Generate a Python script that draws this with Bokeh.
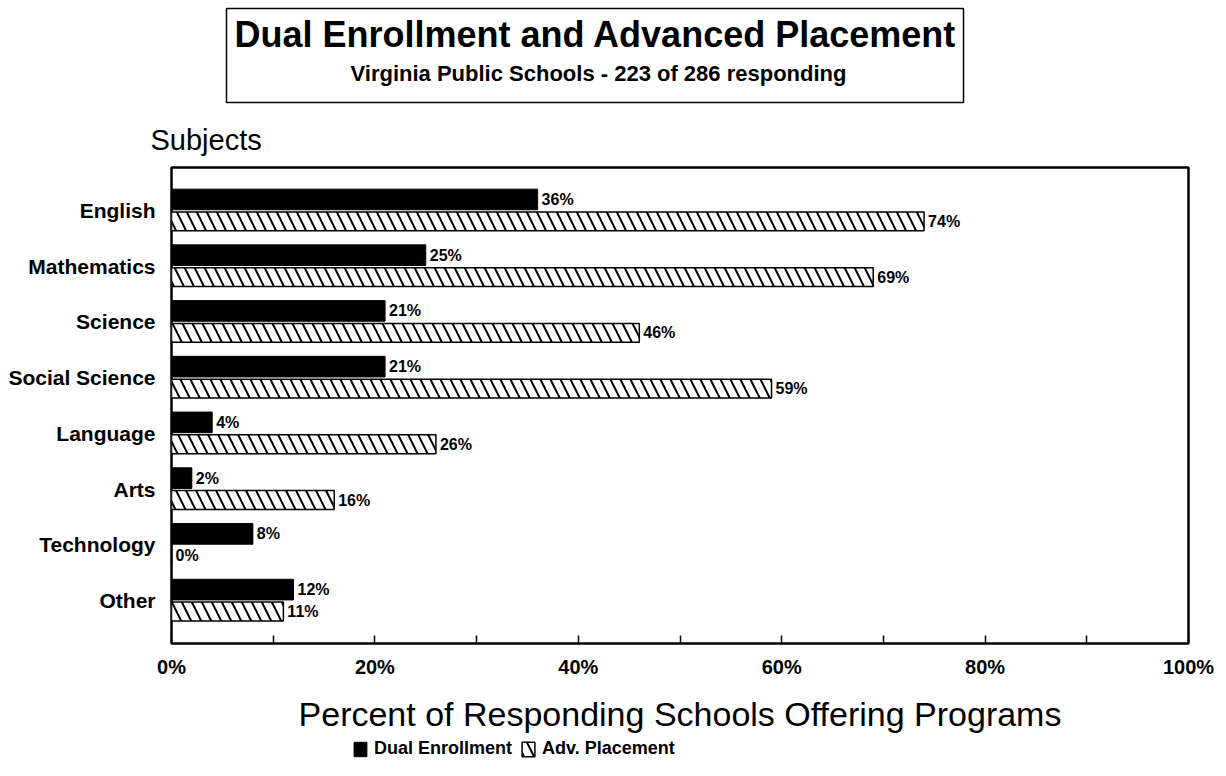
from bokeh.plotting import figure
from bokeh.models import (Range1d, FixedTicker, Label, Legend, LegendItem, ColumnDataSource,
                          BoxAnnotation)
from bokeh.layouts import column
from bokeh.core.properties import value
from bokeh.embed import file_html
from bokeh.resources import INLINE

# ---- data ----
subjects = ["English", "Mathematics", "Science", "Social Science", "Language", "Arts", "Technology", "Other"]
dual_enrollment = [36, 25, 21, 21, 4, 2, 8, 12]
adv_placement = [74, 69, 46, 59, 26, 16, 0, 11]
x_ticks = [0, 10, 20, 30, 40, 50, 60, 70, 80, 90, 100]
x_tick_labels = ["0%", "", "20%", "", "40%", "", "60%", "", "80%", "", "100%"]

FONT = "Liberation Sans"
W = 1226
FL, FR = 171, 1188

# ---------------- title figure (frame spans same columns as main frame) ----------------
TH = 110
t = figure(width=W, height=TH, output_backend="svg", toolbar_location=None,
           x_axis_type=None, y_axis_type=None,
           x_range=Range1d(FL, FR), y_range=Range1d(TH, 0),
           min_border_left=FL, min_border_right=W - FR, min_border_top=0, min_border_bottom=0)
t.outline_line_color = None
t.xgrid.visible = False
t.ygrid.visible = False
t.add_layout(BoxAnnotation(left=226, right=963, top=8, bottom=102, fill_alpha=0,
                           line_color="black", line_alpha=1.0, line_width=1.5))
t.add_layout(Label(x=595, y=34, text="Dual Enrollment and Advanced Placement",
                   text_font=FONT, text_font_style="bold", text_font_size="36px",
                   text_align="center", text_baseline="middle", text_color="black"))
t.add_layout(Label(x=598, y=73, text="Virginia Public Schools - 223 of 286 responding",
                   text_font=FONT, text_font_style="bold", text_font_size="22px",
                   text_align="center", text_baseline="middle", text_color="black"))

# ---------------- main figure ----------------
LH = 41
MH = 776 - TH - LH
n = len(subjects)
ypos = [n - 1 - i for i in range(n)]

src = ColumnDataSource(dict(
    y=ypos,
    y_de=[v + 0.197 for v in ypos],
    y_ap=[v - 0.197 for v in ypos],
    de=dual_enrollment,
    ap=adv_placement,
    de_lbl=[f"{v}%" for v in dual_enrollment],
    ap_lbl=[f"{v}%" for v in adv_placement],
))

p = figure(width=W, height=MH, output_backend="svg", toolbar_location=None,
           x_range=Range1d(0, 100), y_range=Range1d(-0.77, n - 1 + 0.77),
           min_border_left=FL, min_border_right=W - FR, min_border_top=167 - TH,
           min_border_bottom=776 - LH - 644)
p.xgrid.visible = False
p.ygrid.visible = False
p.outline_line_color = "black"
p.outline_line_width = 2.5

p.title.text = "Subjects"
p.title.align = "left"
p.title.offset = -21
p.title.standoff = 23
p.title.text_font = FONT
p.title.text_font_style = "normal"
p.title.text_font_size = "29px"
p.title.text_color = "black"

DE_STYLE = dict(fill_color="black", line_color="black")
AP_STYLE = dict(fill_color="white", line_color="black", line_width=1.5,
                hatch_pattern="\\", hatch_color="black", hatch_scale=20, hatch_weight=2)

p.hbar(y="y_de", left=0, right="de", height=0.37, source=src, **DE_STYLE)
p.hbar(y="y_ap", left=0, right="ap", height=0.34, source=src, **AP_STYLE)

for xcol, ycol, lcol in (("de", "y_de", "de_lbl"), ("ap", "y_ap", "ap_lbl")):
    p.text(x=xcol, y=ycol, text=lcol, source=src, x_offset=4,
           text_font=value(FONT), text_font_style="bold", text_font_size="16px",
           text_baseline="middle", text_align="left", text_color="black")

xa = p.xaxis[0]
xa.ticker = FixedTicker(ticks=x_ticks)
xa.major_label_overrides = {tk: lb for tk, lb in zip(x_ticks, x_tick_labels)}
xa.major_tick_in = 8
xa.major_tick_out = 0
xa.major_tick_line_width = 1.5
xa.minor_tick_line_color = None
xa.axis_line_color = None
xa.major_label_standoff = 12
xa.major_label_text_font = FONT
xa.major_label_text_font_style = "bold"
xa.major_label_text_font_size = "20px"
xa.major_label_text_color = "black"
xa.axis_label = "Percent of Responding Schools Offering Programs"
xa.axis_label_text_font = FONT
xa.axis_label_text_font_style = "normal"
xa.axis_label_text_font_size = "34px"
xa.axis_label_text_color = "black"
xa.axis_label_standoff = 14

ya = p.yaxis[0]
ya.ticker = FixedTicker(ticks=ypos)
ya.major_label_overrides = {yv: s for yv, s in zip(ypos, subjects)}
ya.major_tick_in = 0
ya.major_tick_out = 0
ya.minor_tick_line_color = None
ya.axis_line_color = None
ya.major_label_standoff = 16
ya.major_label_text_font = FONT
ya.major_label_text_font_style = "bold"
ya.major_label_text_font_size = "21px"
ya.major_label_text_color = "black"

# ---------------- legend figure ----------------
lg = figure(width=W, height=LH, output_backend="svg", toolbar_location=None,
            x_axis_type=None, y_axis_type=None,
            x_range=Range1d(0, 1), y_range=Range1d(0, 1),
            min_border_left=FL, min_border_right=W - FR, min_border_top=0, min_border_bottom=0)
lg.outline_line_color = None
lg.xgrid.visible = False
lg.ygrid.visible = False
lr_de = lg.hbar(y="y_de", left=0, right="de", height=0.37, source=src, visible=False, **DE_STYLE)
lr_ap = lg.hbar(y="y_ap", left=0, right="ap", height=0.34, source=src, visible=False, **AP_STYLE)
legend = Legend(items=[LegendItem(label="Dual Enrollment", renderers=[lr_de]),
                       LegendItem(label="Adv. Placement", renderers=[lr_ap])],
                orientation="horizontal", location=(352 - FL, 17),
                padding=0, margin=0, spacing=8, label_standoff=6,
                glyph_width=16, glyph_height=18,
                border_line_color=None, background_fill_alpha=0,
                inactive_fill_alpha=0,
                label_text_font=FONT, label_text_font_style="bold", label_text_font_size="18px",
                label_text_color="black", label_height=18)
lg.add_layout(legend, "center")

layout = column(t, p, lg, spacing=0)
open("out.html", "w").write(file_html(layout, INLINE))
